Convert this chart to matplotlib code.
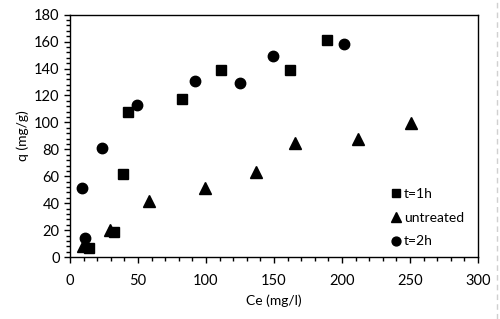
import matplotlib
matplotlib.use("Agg")
import matplotlib.pyplot as plt
from matplotlib.lines import Line2D
from matplotlib.ticker import MultipleLocator

plt.rcParams['font.family'] = ['Lato', 'DejaVu Sans']

x_1h = [14.2, 32.4, 39.2, 42.4, 82.6, 111, 161.8, 189.2]
q_1h = [6.5, 18.8, 61.4, 108, 117.6, 139, 138.7, 161]
x_un = [9.8, 29.4, 58, 99, 136.5, 165.4, 212, 250.5]
q_un = [8.4, 20, 41.6, 51, 63.1, 84.5, 87.7, 99.3]
x_2h = [9.1, 11, 23.3, 49.3, 91.7, 125, 149, 201.2]
q_2h = [51.5, 14, 80.7, 112.7, 130.5, 129.3, 149.3, 158.5]

fig = plt.figure(figsize=(5, 3.19), dpi=100)
ax = fig.add_axes([0.14, 0.194, 0.816, 0.76])

ax.plot(x_1h, q_1h, linestyle='none', marker='s', color='black', markersize=7, label='t=1h')
ax.plot(x_un, q_un, linestyle='none', marker='^', color='black', markersize=8, label='untreated')
ax.plot(x_2h, q_2h, linestyle='none', marker='o', color='black', markersize=7.5, label='t=2h')

ax.set_xlim(0, 300)
ax.set_ylim(0, 180)
ax.xaxis.set_major_locator(MultipleLocator(50))
ax.xaxis.set_minor_locator(MultipleLocator(10))
ax.yaxis.set_major_locator(MultipleLocator(20))
ax.yaxis.set_minor_locator(MultipleLocator(4))
ax.tick_params(which='major', direction='out', length=4, width=1, labelsize=10.5)
ax.tick_params(which='minor', direction='out', length=3, width=1)
ax.tick_params(axis='x', pad=8)
for s in ax.spines.values():
    s.set_linewidth(1)

ax.set_xlabel('Ce (mg/l)', fontsize=10, labelpad=5)
ax.set_ylabel('q (mg/g)', fontsize=10, labelpad=4)

leg = ax.legend(loc='lower right', frameon=False, fontsize=10, handletextpad=0.1,
                handlelength=1.0, labelspacing=0.85, borderaxespad=0.3,
                bbox_to_anchor=(0.99, 0.0), markerscale=0.85)

fig.add_artist(Line2D([0.994, 0.994], [0.0, 1.0], transform=fig.transFigure,
                      color='#d0d0d0', linestyle=(0, (4, 3)), linewidth=1))

fig.savefig('out.png', dpi=100)
